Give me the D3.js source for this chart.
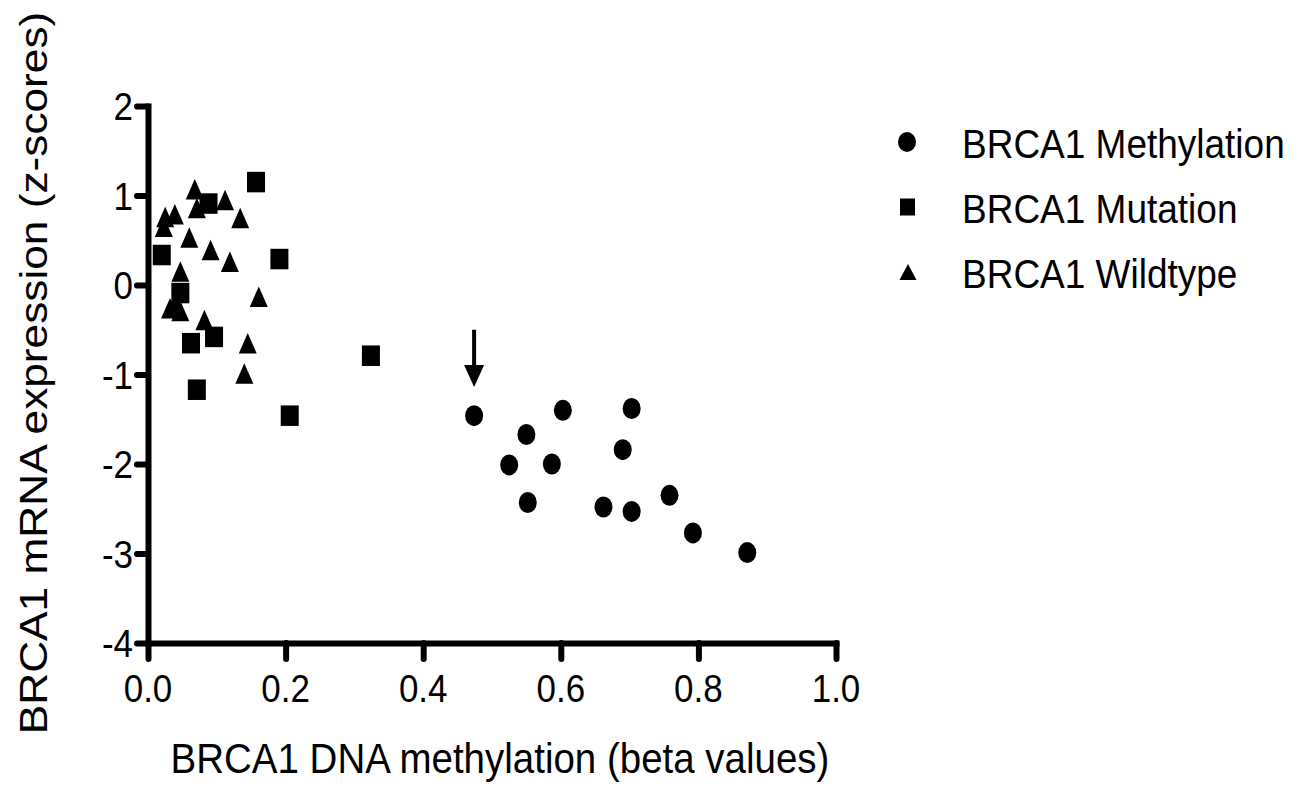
<!DOCTYPE html>
<html><head><meta charset="utf-8">
<script src="https://cdn.jsdelivr.net/npm/d3@7"></script>
<style>body{margin:0;background:#fff}</style>
</head><body><svg id="c" width="1308" height="787"></svg>
<script>
// ---- data ----
const xTicks = [0, 0.2, 0.4, 0.6, 0.8, 1.0];
const xTickLabels = ["0.0", "0.2", "0.4", "0.6", "0.8", "1.0"];
const yTicks = [2, 1, 0, -1, -2, -3, -4];
const yTickLabels = ["2", "1", "0", "-1", "-2", "-3", "-4"];

const methX = [0.474, 0.550, 0.603, 0.703, 0.525, 0.587, 0.690, 0.552, 0.662, 0.703, 0.758, 0.792, 0.871];
const methY = [-1.46, -1.67, -1.40, -1.38, -2.01, -2.00, -1.84, -2.43, -2.48, -2.53, -2.35, -2.77, -2.99];

const mutX = [0.157, 0.088, 0.020, 0.191, 0.047, 0.0625, 0.096, 0.324, 0.071, 0.206];
const mutY = [1.15, 0.91, 0.335, 0.29, -0.09, -0.65, -0.58, -0.79, -1.17, -1.46];

const wildX = [0.068, 0.071, 0.112, 0.025, 0.039, 0.023, 0.134, 0.060, 0.091, 0.119, 0.047, 0.161, 0.032, 0.047, 0.039, 0.082, 0.145, 0.140];
const wildY = [1.07, 0.86, 0.95, 0.76, 0.79, 0.65, 0.75, 0.53, 0.39, 0.26, 0.15, -0.13, -0.26, -0.29, -0.21, -0.39, -0.65, -0.99];

const seriesNames = ["BRCA1 Methylation", "BRCA1 Mutation", "BRCA1 Wildtype"];
const arrowX = [0.474];
const arrowY = [-0.50, -1.14];   // arrow start, arrow tip
const xTitle = "BRCA1 DNA methylation (beta values)";
const yTitle = "BRCA1 mRNA expression (z-scores)";

// ---- drawing ----
const svg = d3.select('#c');
const x = d3.scaleLinear().domain([0, 1]).range([148, 836]);
const y = d3.scaleLinear().domain([-4, 2]).range([643, 106]);
const SY = 1.12;
const FONT = '"Liberation Sans", Arial, Helvetica, sans-serif';

function stretchedText(g, px, py, txt, size, anchor) {
  return g.append('g').attr('transform', `translate(${px},${py}) scale(1,${SY})`)
    .append('text').attr('x', 0).attr('y', 0).attr('text-anchor', anchor)
    .attr('font-family', FONT).attr('font-size', size).attr('fill', '#000').text(txt);
}

// axes
const gx = svg.append('g').attr('transform', 'translate(0,643)')
  .call(d3.axisBottom(x).tickValues(xTicks).tickSize(16).tickSizeOuter(0).tickFormat(''));
const gy = svg.append('g').attr('transform', 'translate(148,0)')
  .call(d3.axisLeft(y).tickValues(yTicks).tickSize(11).tickSizeOuter(0).tickFormat(''));
[gx, gy].forEach(g => {
  g.select('.domain').attr('stroke', '#000').attr('stroke-width', 6).attr('stroke-linecap', 'square');
  g.selectAll('.tick line').attr('stroke', '#000').attr('stroke-width', 6).attr('stroke-linecap', 'round');
});

// tick labels
const tl = svg.append('g');
xTicks.forEach((t, i) => stretchedText(tl, x(t), 702, xTickLabels[i], 35, 'middle'));
yTicks.forEach((t, i) => stretchedText(tl, 133, y(t) + 14, yTickLabels[i], 35, 'end'));

// axis titles
stretchedText(svg, 500, 773, xTitle, 38.5, 'middle');
svg.append('g').attr('transform', `translate(47,373) rotate(-90) scale(${SY},1)`)
  .append('text').attr('text-anchor', 'middle').attr('font-family', FONT)
  .attr('font-size', 39.5).attr('fill', '#000').text(yTitle);

// markers
const W = 18, H = 20.5;
const tri = (cx, cy, w, h) => `M${cx},${cy - h / 2}L${cx + w / 2},${cy + h / 2}L${cx - w / 2},${cy + h / 2}Z`;
const marks = svg.append('g');
marks.selectAll('rect.mut').data(d3.range(mutX.length)).join('rect')
  .attr('x', i => x(mutX[i]) - W / 2).attr('y', i => y(mutY[i]) - H / 2)
  .attr('width', W).attr('height', H).attr('fill', '#000');
marks.selectAll('path.wild').data(d3.range(wildX.length)).join('path')
  .attr('d', i => tri(x(wildX[i]), y(wildY[i]), W, H)).attr('fill', '#000');
marks.selectAll('ellipse.meth').data(d3.range(methX.length)).join('ellipse')
  .attr('cx', i => x(methX[i])).attr('cy', i => y(methY[i]))
  .attr('rx', 9).attr('ry', 10.5).attr('fill', '#000');

// arrow annotation
const ax = x(arrowX[0]), ay0 = y(arrowY[0]), ay1 = y(arrowY[1]);
svg.append('line').attr('x1', ax).attr('x2', ax).attr('y1', ay0).attr('y2', ay1 - 18)
  .attr('stroke', '#000').attr('stroke-width', 4);
svg.append('path').attr('d', `M${ax - 10},${ay1 - 22}L${ax + 10},${ay1 - 22}L${ax},${ay1}Z`).attr('fill', '#000');

// legend
const lg = svg.append('g');
const rows = [142, 207, 272];
lg.append('ellipse').attr('cx', 907).attr('cy', rows[0]).attr('rx', 9).attr('ry', 10).attr('fill', '#000');
lg.append('rect').attr('x', 900).attr('y', rows[1] - 8.5).attr('width', 15).attr('height', 17).attr('fill', '#000');
lg.append('path').attr('d', tri(908, rows[2], 17, 16)).attr('fill', '#000');
seriesNames.forEach((n, i) => stretchedText(lg, 962, rows[i] + 16, n, 37, 'start'));
</script>
</body></html>
